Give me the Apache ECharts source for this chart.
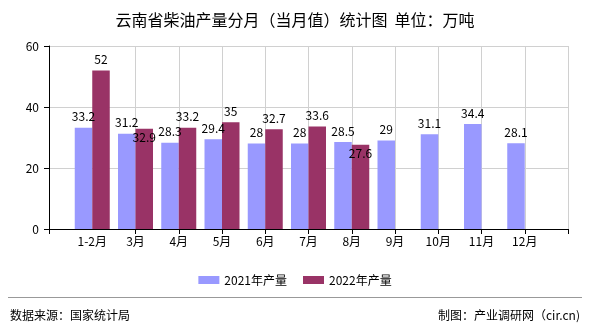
<!DOCTYPE html>
<html><head><meta charset="utf-8">
<script src="https://cdn.jsdelivr.net/npm/echarts@6/dist/echarts.min.js"></script>
<style>html,body{margin:0;padding:0;background:#fff;}#c{width:590px;height:330px;}</style>
</head><body><div id="c"></div>
<script>
var categories = ['1-2月','3月','4月','5月','6月','7月','8月','9月','10月','11月','12月'];
var values2021 = [33.2,31.2,28.3,29.4,28,28,28.5,29,31.1,34.4,28.1];
var values2022 = [52,32.9,33.2,35,32.7,33.6,27.6];
var yTicks = [0,20,40,60];
var shiftedDown2022 = ['3月','8月'];

var axisCats = [''].concat(categories).concat(['']);
var FONT = '"Noto Sans CJK SC", sans-serif';
function pad(arr, name) {
  var out = [null];
  for (var i = 0; i < categories.length; i++) {
    if (i < arr.length) {
      var v = arr[i];
      if (name === '2022' && shiftedDown2022.indexOf(categories[i]) >= 0) {
        out.push({value: v, label: {position: 'insideTop', distance: 3}});
      } else out.push(v);
    } else out.push(null);
  }
  out.push(null);
  return out;
}
var chart = echarts.init(document.getElementById('c'), null, {renderer: 'canvas'});
var labelCfg = {show: true, position: 'top', distance: 5, color: '#000', fontSize: 12, fontFamily: FONT};
chart.setOption({
  animation: false,
  title: {text: '云南省柴油产量分月（当月值）统计图  单位：万吨', left: 'center', top: 7,
    textStyle: {fontSize: 16, fontWeight: 'normal', color: '#000', fontFamily: FONT}},
  legend: {data: ['2021年产量','2022年产量'], left: 'center', top: 269, itemWidth: 21, itemHeight: 8, itemGap: 16,
    icon: 'rect', textStyle: {fontSize: 12, color: '#000', fontFamily: FONT}},
  grid: {left: 49, right: 22, top: 46, bottom: 101, containLabel: false},
  xAxis: {type: 'category', data: axisCats, boundaryGap: false,
    axisLine: {lineStyle: {color: '#000', width: 1}},
    axisTick: {show: true, length: 5, interval: function(i){ return i !== 1; }, lineStyle: {color: '#000'}},
    axisLabel: {interval: 0, color: '#000', fontSize: 12, fontFamily: FONT, margin: 6},
    splitLine: {show: true, interval: function(i){ return i !== 1; }, lineStyle: {color: '#d0d0d0'}}},
  yAxis: {type: 'value', min: yTicks[0], max: yTicks[yTicks.length-1], interval: 20,
    axisLine: {show: true, lineStyle: {color: '#000'}},
    axisTick: {show: true, length: 5, lineStyle: {color: '#000'}},
    axisLabel: {color: '#000', fontSize: 12, fontFamily: FONT, margin: 10},
    splitLine: {show: true, lineStyle: {color: '#d0d0d0'}}},
  series: [
    {name: '2021年产量', type: 'bar', data: pad(values2021, '2021'), barWidth: 17.5, barGap: '0%',
     itemStyle: {color: '#9999ff'}, label: labelCfg},
    {name: '2022年产量', type: 'bar', data: pad(values2022, '2022'), barWidth: 17.5, barGap: '0%',
     itemStyle: {color: '#993366'}, label: labelCfg}
  ],
  graphic: [
    {type: 'line', shape: {x1: 8, y1: 297.5, x2: 582, y2: 297.5}, style: {stroke: '#999', lineWidth: 1}},
    {type: 'text', left: 10, top: 309, style: {text: '数据来源：国家统计局', fill: '#000', font: '12px ' + FONT}},
    {type: 'text', right: 10, top: 309, style: {text: '制图：产业调研网（cir.cn)', fill: '#000', font: '12px ' + FONT}}
  ]
});
</script></body></html>
